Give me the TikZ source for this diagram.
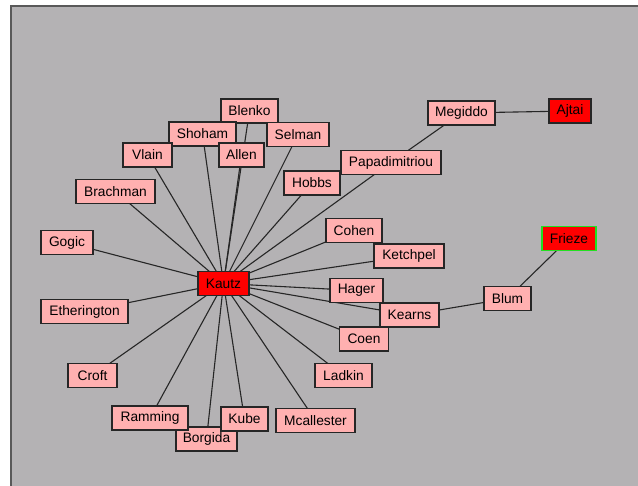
\documentclass[tikz,border=0pt]{standalone}
\usepackage{fontspec}
\setmainfont{Liberation Sans}
\usetikzlibrary{positioning}
\pgfdeclarelayer{background layer}
\pgfsetlayers{background layer,main}
\definecolor{panelgray}{HTML}{B4B2B4}
\definecolor{pinkbox}{HTML}{FFB0B0}
\definecolor{framegreen}{HTML}{22E022}
\tikzset{
	author/.style={draw=black!85,line width=1.4bp,fill=pinkbox,minimum width=#1bp,minimum height=24bp,inner sep=0pt,font=\fontsize{13.8}{15}\selectfont},
	seed/.style={author=#1,fill=red},
	link/.style={line width=1.1bp,black!85}
}

\begin{document}
\begin{tikzpicture}[x=1bp,y=-1bp]
\useasboundingbox (0,0) rectangle (638,486);
\node[author=57] (blenko) at (249.5,111) {Blenko};
\node[author=67] (shoham) at (202.5,134) {Shoham};
\node[author=62] (selman) at (298,134.5) {Selman};
\node[author=49] (vlain) at (147.5,155) {Vlain};
\node[author=45] (allen) at (241.5,155) {Allen};
\node[author=67] (megiddo) at (461.5,113) {Megiddo};
\node[seed=42] (ajtai) at (570,111) {Ajtai};
\node[author=100] (papadimitriou) at (391,162.5) {Papadimitriou};
\node[author=56] (hobbs) at (312,183) {Hobbs};
\node[author=79] (brachman) at (115.5,191.5) {Brachman};
\node[author=52] (gogic) at (67,242.5) {Gogic};
\node[author=56] (cohen) at (354,230.5) {Cohen};
\node[author=70] (ketchpel) at (409,256) {Ketchpel};
\node[seed=54,draw=framegreen] (frieze) at (569,238.5) {Frieze};
\node[seed=51] (kautz) at (223.5,283.5) {Kautz};
\node[author=53] (hager) at (356.5,290.5) {Hager};
\node[author=47] (blum) at (507.5,298.5) {Blum};
\node[author=59] (kearns) at (409.5,315) {Kearns};
\node[author=87] (etherington) at (84.5,311.5) {Etherington};
\node[author=49] (coen) at (364,339) {Coen};
\node[author=49] (croft) at (92.5,375.5) {Croft};
\node[author=57] (ladkin) at (343.5,375.5) {Ladkin};
\node[author=61] (borgida) at (206.5,439) {Borgida};
\node[author=76] (ramming) at (150,418) {Ramming};
\node[author=47] (kube) at (244.5,419) {Kube};
\node[author=79] (mcallester) at (315.5,420.5) {Mcallester};
\begin{pgfonlayer}{background layer}
\fill[panelgray] (10,5) rectangle (638,486);
\draw[black!65,line width=2bp] (11,486) -- (11,6) -- (638,6);
\foreach \n in {blenko,shoham,selman,vlain,allen,papadimitriou,hobbs,brachman,gogic,cohen,ketchpel,hager,kearns,etherington,coen,croft,ladkin,ramming,borgida,kube,mcallester}
	\draw[link] (kautz.center) -- (\n.center);
\draw[link] (megiddo.center) -- (ajtai.center);
\draw[link] (megiddo.center) -- (papadimitriou.center);
\draw[link] (kearns.center) -- (blum.center);
\draw[link] (blum.center) -- (frieze.center);
\end{pgfonlayer}
\end{tikzpicture}
\end{document}
